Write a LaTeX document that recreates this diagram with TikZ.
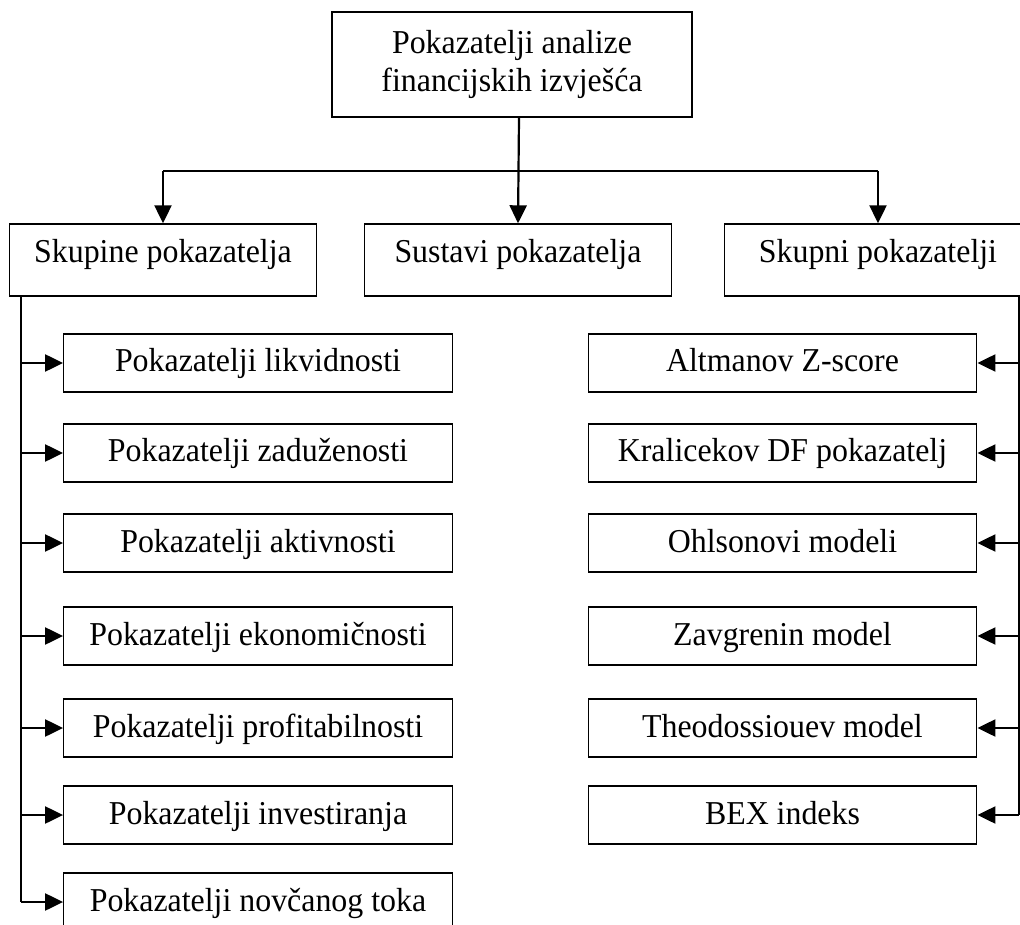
\documentclass[tikz,border=0pt]{standalone}
\usepackage{fontspec}
\setmainfont{Liberation Serif}[FakeStretch=0.955]
\usetikzlibrary{arrows.meta}
\tikzset{
  box/.style={draw, line width=0.8pt, rectangle, inner sep=0pt, align=center,
    font=\fontsize{19}{21.5}\selectfont},
  topbox/.style={box, minimum width=7.2cm, minimum height=2.1cm},
  midbox/.style={box, minimum width=6.14cm, minimum height=1.44cm,
    text height=0.4cm, text depth=0.28cm},
  subbox/.style={box, minimum width=7.77cm, minimum height=1.16cm,
    text height=0.5cm, text depth=0.14cm},
  arr/.style={line width=1.25pt, -{Triangle[length=0.36cm,width=0.34cm]}},
  bar/.style={line width=0.8pt}
}
\begin{document}
\begin{tikzpicture}[x=0.02cm,y=-0.02cm]
\useasboundingbox (0,0) rectangle (1020,925);
% Top of the tree
\node[topbox] (top) at (512,64.5) {Pokazatelji analize\\financijskih izvješća};
% Three groups
\node[midbox] (skupine) at (163,260) {Skupine pokazatelja};
\node[midbox] (sustavi) at (518,260) {Sustavi pokazatelja};
\node[midbox] (skupni) at (878,260) {Skupni pokazatelji};
% Connect the top to the groups
\coordinate (split) at (519,171);
\draw[arr] (top.south -| split) -- (sustavi.north);
\draw[bar] (skupine.north |- split) -- (skupni.north |- split);
\draw[arr] (skupine.north |- split) -- (skupine.north);
\draw[arr] (skupni.north |- split) -- (skupni.north);
% Left column, name them l1, l2, etc.
\foreach \i/\y/\txt in {1/363/Pokazatelji likvidnosti,
                        2/453/Pokazatelji zaduženosti,
                        3/543/Pokazatelji aktivnosti,
                        4/636/Pokazatelji ekonomičnosti,
                        5/728/Pokazatelji profitabilnosti,
                        6/815/Pokazatelji investiranja,
                        7/902/Pokazatelji novčanog toka}
{
  \node[subbox] (l\i) at (258,\y) {\txt};
}
% Right column, name them r1, r2, etc.
\foreach \i/\y/\txt in {1/363/Altmanov Z-score,
                        2/453/Kralicekov DF pokazatelj,
                        3/543/Ohlsonovi modeli,
                        4/636/Zavgrenin model,
                        5/728/Theodossiouev model,
                        6/815/BEX indeks}
{
  \node[subbox] (r\i) at (782.5,\y) {\txt};
}
% The two trunks with their arrows
\coordinate (lt) at (21,0);
\coordinate (rt) at (1019,0);
\draw[line width=1.25pt] (lt |- skupine.south) -- (lt |- l7.west);
\draw[line width=1.25pt] (rt |- skupni.south) -- (rt |- r6.east);
\foreach \i in {1,...,7}
  \draw[arr] (lt |- l\i.west) -- (l\i.west);
\foreach \i in {1,...,6}
  \draw[arr] (rt |- r\i.east) -- (r\i.east);
\end{tikzpicture}
\end{document}
